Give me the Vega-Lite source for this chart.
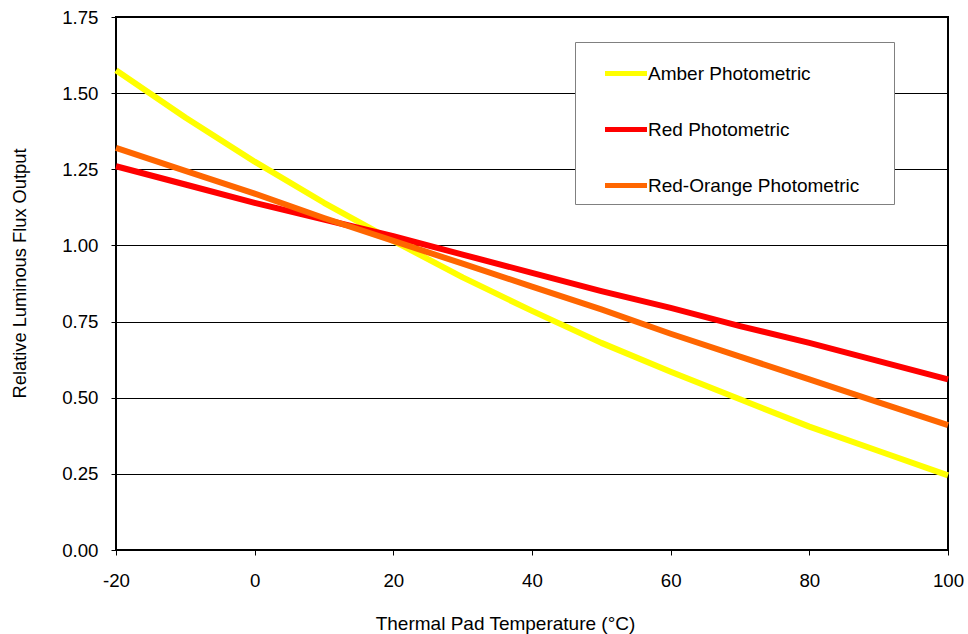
{
  "$schema": "https://vega.github.io/schema/vega-lite/v6.json",
  "width": 832,
  "height": 533,
  "autosize": {"type": "none"},
  "padding": {"left": 116, "top": 17, "right": 20, "bottom": 84},
  "background": "white",
  "config": {
    "font": "Liberation Sans",
    "view": {"stroke": "#000", "strokeWidth": 2},
    "axis": {"labelFont": "Liberation Sans", "titleFont": "Liberation Sans", "labelColor": "#000", "titleColor": "#000", "titleFontWeight": "normal"}
  },
  "data": {
    "values": [
      {"t": -20, "s": "Amber Photometric", "v": 1.575},
      {"t": -10, "s": "Amber Photometric", "v": 1.42},
      {"t": 0, "s": "Amber Photometric", "v": 1.275},
      {"t": 10, "s": "Amber Photometric", "v": 1.14},
      {"t": 20, "s": "Amber Photometric", "v": 1.015},
      {"t": 30, "s": "Amber Photometric", "v": 0.895},
      {"t": 40, "s": "Amber Photometric", "v": 0.785},
      {"t": 50, "s": "Amber Photometric", "v": 0.68},
      {"t": 60, "s": "Amber Photometric", "v": 0.585},
      {"t": 70, "s": "Amber Photometric", "v": 0.495},
      {"t": 80, "s": "Amber Photometric", "v": 0.405},
      {"t": 90, "s": "Amber Photometric", "v": 0.325},
      {"t": 100, "s": "Amber Photometric", "v": 0.245},
      {"t": -20, "s": "Red Photometric", "v": 1.26},
      {"t": -10, "s": "Red Photometric", "v": 1.2},
      {"t": 0, "s": "Red Photometric", "v": 1.14},
      {"t": 10, "s": "Red Photometric", "v": 1.085},
      {"t": 20, "s": "Red Photometric", "v": 1.03},
      {"t": 30, "s": "Red Photometric", "v": 0.97},
      {"t": 40, "s": "Red Photometric", "v": 0.91},
      {"t": 50, "s": "Red Photometric", "v": 0.85},
      {"t": 60, "s": "Red Photometric", "v": 0.795},
      {"t": 70, "s": "Red Photometric", "v": 0.735},
      {"t": 80, "s": "Red Photometric", "v": 0.68},
      {"t": 90, "s": "Red Photometric", "v": 0.62},
      {"t": 100, "s": "Red Photometric", "v": 0.56},
      {"t": -20, "s": "Red-Orange Photometric", "v": 1.32},
      {"t": -10, "s": "Red-Orange Photometric", "v": 1.245},
      {"t": 0, "s": "Red-Orange Photometric", "v": 1.17},
      {"t": 10, "s": "Red-Orange Photometric", "v": 1.09},
      {"t": 20, "s": "Red-Orange Photometric", "v": 1.015},
      {"t": 30, "s": "Red-Orange Photometric", "v": 0.94},
      {"t": 40, "s": "Red-Orange Photometric", "v": 0.865},
      {"t": 50, "s": "Red-Orange Photometric", "v": 0.79},
      {"t": 60, "s": "Red-Orange Photometric", "v": 0.71},
      {"t": 70, "s": "Red-Orange Photometric", "v": 0.635},
      {"t": 80, "s": "Red-Orange Photometric", "v": 0.56},
      {"t": 90, "s": "Red-Orange Photometric", "v": 0.485},
      {"t": 100, "s": "Red-Orange Photometric", "v": 0.41}
    ]
  },
  "mark": {"type": "line", "strokeWidth": 6, "strokeCap": "butt", "strokeJoin": "round"},
  "encoding": {
    "x": {
      "field": "t", "type": "quantitative",
      "scale": {"domain": [-20, 100], "nice": false, "zero": false},
      "axis": {
        "title": "Thermal Pad Temperature (°C)",
        "values": [-20, 0, 20, 40, 60, 80, 100],
        "labelExpr": "datum.value + ''",
        "grid": false, "domain": false,
        "tickColor": "#000", "tickSize": 5, "tickWidth": 1,
        "labelFontSize": 18.7, "labelPadding": 31, "labelBaseline": "alphabetic", "labelFlush": false,
        "titleFontSize": 19, "titleX": 389, "titleY": 79, "titleBaseline": "alphabetic", "titleAlign": "center"
      }
    },
    "y": {
      "field": "v", "type": "quantitative",
      "scale": {"domain": [0, 1.75], "nice": false},
      "axis": {
        "title": "Relative Luminous Flux Output",
        "values": [0, 0.25, 0.5, 0.75, 1, 1.25, 1.5, 1.75],
        "format": ".2f",
        "grid": true, "gridColor": "#000", "gridWidth": 1, "gridOpacity": 1,
        "domain": false,
        "tickColor": "#000", "tickSize": 5, "tickWidth": 1,
        "labelFontSize": 18.7, "labelPadding": 13,
        "titleFontSize": 18.3, "titleX": -96, "titleY": 256, "titleAngle": -90, "titleBaseline": "middle", "titleAlign": "center"
      }
    },
    "color": {
      "field": "s", "type": "nominal",
      "scale": {
        "domain": ["Amber Photometric", "Red Photometric", "Red-Orange Photometric"],
        "range": ["#FFFF00", "#FF0000", "#FF6600"]
      },
      "legend": {
        "title": "\u00a0",
        "titleOrient": "right",
        "titlePadding": 27,
        "titleFontSize": 4,
        "orient": "none",
        "legendX": 459,
        "legendY": 25,
        "padding": 8,
        "strokeColor": "#808080",
        "fillColor": "#FFFFFF",
        "symbolType": "stroke",
        "symbolSize": 1764,
        "symbolStrokeWidth": 5,
        "symbolOffset": 19.5,
        "rowPadding": 22,
        "labelFontSize": 19,
        "labelColor": "#000",
        "labelOffset": -1.5,
        "labelLimit": 0
      }
    }
  }
}
